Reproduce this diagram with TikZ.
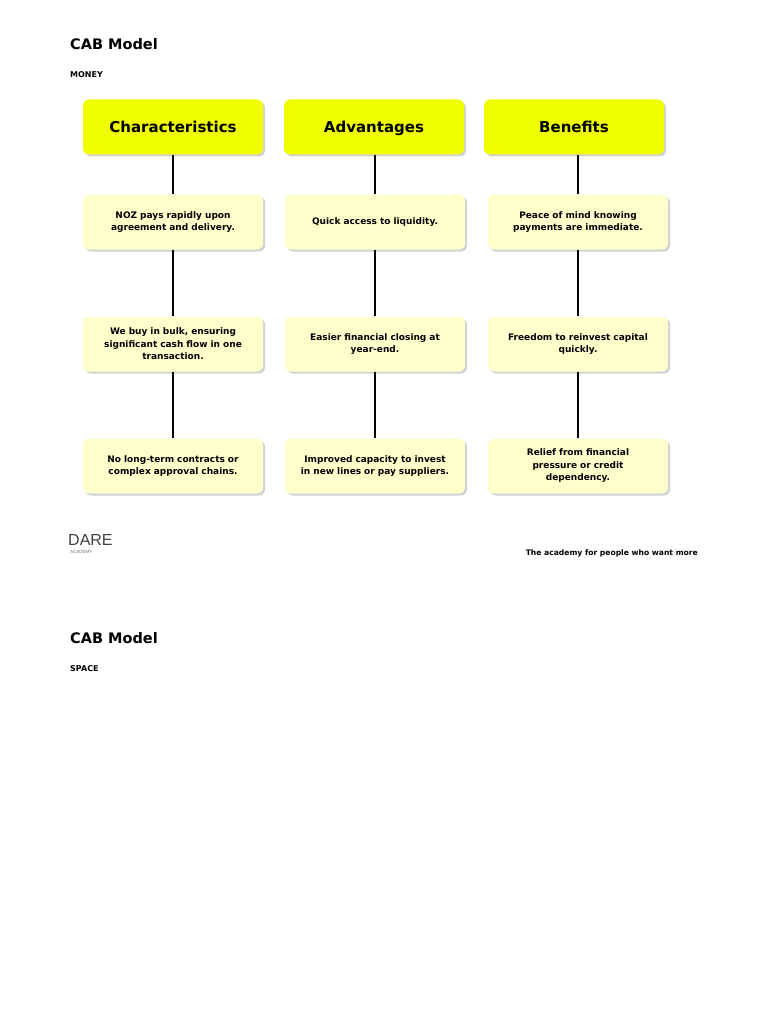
\documentclass[tikz,border=0pt]{standalone}
\usepackage{fontspec}
\setmainfont{DejaVu Sans}
\newfontfamily\logofont{Liberation Sans}
\usetikzlibrary{shadows}
\begin{document}
\begin{tikzpicture}[x=1pt,y=-1pt,
  hdr/.style={draw=none,fill={rgb,255:red,240;green,255;blue,0},rounded corners=6pt,minimum width=180pt,minimum height=55pt,text height=11pt,text depth=0.5pt,font=\bfseries\fontsize{15}{17}\selectfont,drop shadow={shadow xshift=2pt,shadow yshift=-2pt,opacity=0.35}},
  box/.style={draw=none,fill={rgb,255:red,255;green,255;blue,204},rounded corners=6pt,minimum width=180pt,minimum height=55pt,align=center,text width=170pt,font=\bfseries\fontsize{9}{12.5}\selectfont,drop shadow={shadow xshift=2pt,shadow yshift=-2pt,opacity=0.35}},
  conn/.style={line width=1.6pt,black}]
\useasboundingbox[fill=white] (0,0) rectangle (768,1024);
\node[anchor=west,inner sep=0,font=\bfseries\fontsize{14.5}{16}\selectfont] (t1) at (70,44) {CAB Model};
\node[anchor=west,inner sep=0,font=\bfseries\fontsize{8}{9}\selectfont] (s1) at (70,75) {MONEY};
\node[hdr] (h1) at (173,127) {Characteristics};
\node[hdr] (h2) at (374,127) {Advantages};
\node[hdr] (h3) at (574,127) {Benefits};
\node[box] (a1) at (173,222) {NOZ pays rapidly upon\\agreement and delivery.};
\node[box] (b1) at (375,222) {Quick access to liquidity.};
\node[box] (c1) at (578,222) {Peace of mind knowing\\payments are immediate.};
\node[box] (a2) at (173,344) {We buy in bulk, ensuring\\significant cash flow in one\\transaction.};
\node[box] (b2) at (375,344) {Easier financial closing at\\year-end.};
\node[box] (c2) at (578,344) {Freedom to reinvest capital\\quickly.};
\node[box] (a3) at (173,466) {No long-term contracts or\\complex approval chains.};
\node[box] (b3) at (375,466) {Improved capacity to invest\\in new lines or pay suppliers.};
\node[box] (c3) at (578,466) {Relief from financial\\pressure or credit\\dependency.};
\draw[conn] (h1) -- (a1); \draw[conn] (a1) -- (a2); \draw[conn] (a2) -- (a3);
\draw[conn] (h2.south -| b1) -- (b1); \draw[conn] (b1) -- (b2); \draw[conn] (b2) -- (b3);
\draw[conn] (h3.south -| c1) -- (c1); \draw[conn] (c1) -- (c2); \draw[conn] (c2) -- (c3);
\node[anchor=west,inner sep=0,font=\logofont\fontsize{16}{16}\selectfont,text=black!75] (logo) at (68,540) {DARE};
\node[anchor=north west,inner sep=0,font=\logofont\fontsize{4.5}{4.5}\selectfont,text=black!55] (logo2) at (70,550) {ACADEMY};
\node[anchor=east,inner sep=0,font=\bfseries\fontsize{7.6}{8}\selectfont] (tag) at (698,553) {The academy for people who want more};
\node[anchor=west,inner sep=0,font=\bfseries\fontsize{14.5}{16}\selectfont] (t2) at (70,638) {CAB Model};
\node[anchor=west,inner sep=0,font=\bfseries\fontsize{8}{9}\selectfont] (s2) at (70,669) {SPACE};
\end{tikzpicture}
\end{document}
